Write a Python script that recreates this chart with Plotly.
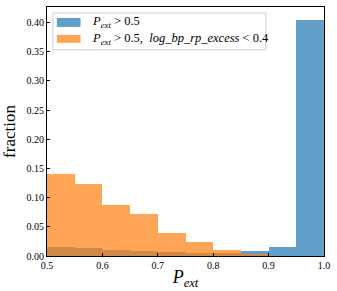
import plotly.graph_objects as go

bin_left = [0.50, 0.55, 0.60, 0.65, 0.70, 0.75, 0.80, 0.85, 0.90, 0.95]
frac_all = [0.0154, 0.0140, 0.0110, 0.0090, 0.0074, 0.0057, 0.0046, 0.0090, 0.0154, 0.4050]
frac_cut = [0.1410, 0.1230, 0.0866, 0.0713, 0.0388, 0.0234, 0.0103, 0.0034, 0.0, 0.0]
bin_width = 0.05

label_all = "<i>P</i><sub><i>ext</i></sub> > 0.5"
label_cut = "<i>P</i><sub><i>ext</i></sub> > 0.5,  <i>log_bp_rp_excess</i> < 0.4"

FONT = "Liberation Serif"
BLUE = "rgba(31,119,180,0.7)"
ORANGE = "rgba(255,127,14,0.7)"

fig = go.Figure()
fig.add_trace(go.Bar(x=bin_left, y=frac_all, width=[bin_width]*len(bin_left), offset=0,
                     marker=dict(color=BLUE, line=dict(width=0)),
                     name=label_all, showlegend=False))
fig.add_trace(go.Bar(x=bin_left, y=frac_cut, width=[bin_width]*len(bin_left), offset=0,
                     marker=dict(color=ORANGE, line=dict(width=0)),
                     name=label_cut, showlegend=False))

# manual matplotlib-style legend
shapes = [
    dict(type="rect", xref="paper", yref="paper", x0=0.0214, x1=0.790, y0=0.828, y1=0.976,
         line=dict(color="#cccccc", width=1), fillcolor="rgba(255,255,255,0.8)", layer="above"),
    dict(type="rect", xref="paper", yref="paper", x0=0.0356, x1=0.121, y0=0.920, y1=0.956,
         line=dict(width=0), fillcolor=BLUE, layer="above"),
    dict(type="rect", xref="paper", yref="paper", x0=0.0356, x1=0.121, y0=0.856, y1=0.888,
         line=dict(width=0), fillcolor=ORANGE, layer="above"),
]
annotations = [
    dict(xref="paper", yref="paper", x=0.1566, y=0.938, xanchor="left", yanchor="middle",
         text=label_all, showarrow=False, font=dict(family=FONT, size=12.5)),
    dict(xref="paper", yref="paper", x=0.1566, y=0.870, xanchor="left", yanchor="middle",
         text=label_cut, showarrow=False, font=dict(family=FONT, size=12.5)),
]

fig.update_layout(
    width=337, height=291,
    margin=dict(l=43, r=13, t=6, b=35),
    barmode="overlay",
    bargap=0,
    plot_bgcolor="white", paper_bgcolor="white",
    font=dict(family=FONT, color="black", size=10),
    showlegend=False,
    shapes=shapes,
    annotations=annotations,
    xaxis=dict(range=[0.5, 1.0], tickvals=[0.5, 0.6, 0.7, 0.8, 0.9, 1.0],
               ticktext=["0.5", "0.6", "0.7", "0.8", "0.9", "1.0"],
               ticks="inside", ticklen=3, tickwidth=1, tickcolor="black",
               showline=True, linecolor="black", linewidth=1, mirror=True,
               showgrid=False, zeroline=False,
               tickfont=dict(family=FONT, size=10),
               title=dict(text="<i>P</i><sub><i>ext</i></sub>", font=dict(family=FONT, size=18), standoff=0)),
    yaxis=dict(range=[0, 0.4265], tickvals=[0, 0.05, 0.1, 0.15, 0.2, 0.25, 0.3, 0.35, 0.4],
               ticktext=["0.00", "0.05", "0.10", "0.15", "0.20", "0.25", "0.30", "0.35", "0.40"],
               ticks="inside", ticklen=3, tickwidth=1, tickcolor="black",
               showline=True, linecolor="black", linewidth=1, mirror=True,
               showgrid=False, zeroline=False,
               tickfont=dict(family=FONT, size=10),
               title=dict(text="fraction", font=dict(family=FONT, size=17), standoff=9)),
)

fig.write_html("out.html", config={"displayModeBar": False},
               post_script="document.body.style.margin='0';")
